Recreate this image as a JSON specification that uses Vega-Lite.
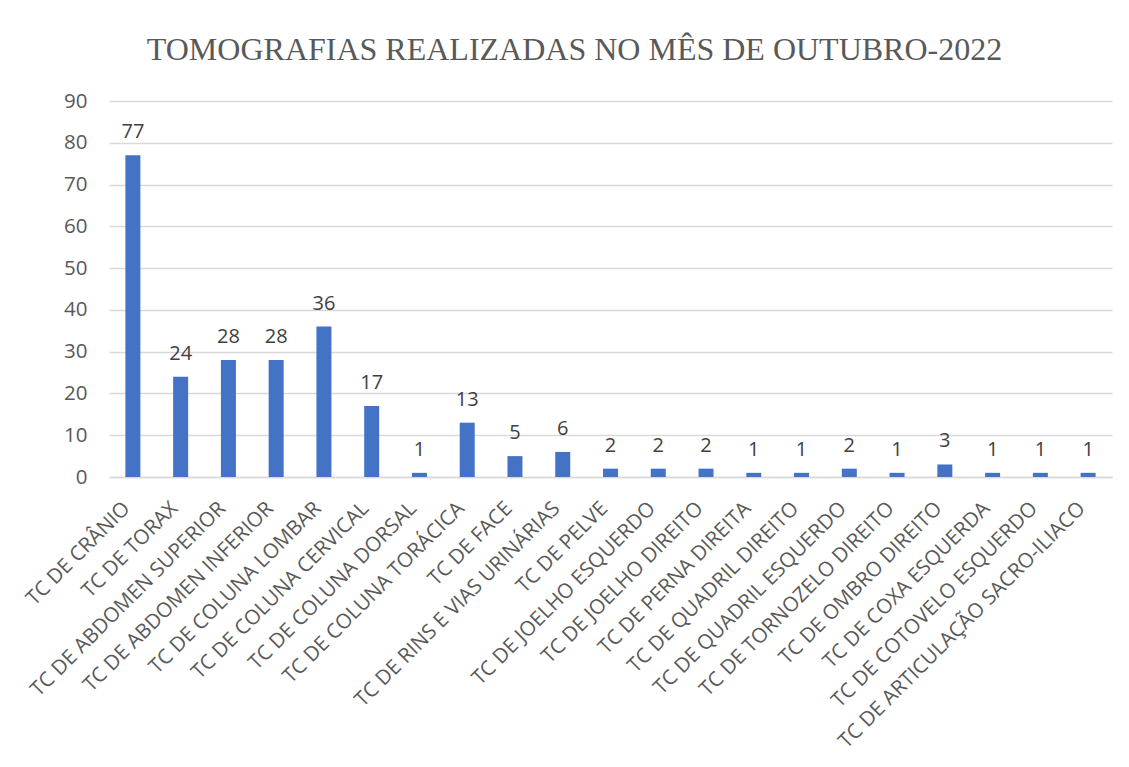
{
  "$schema": "https://vega.github.io/schema/vega-lite/v6.json",
  "width": 1003,
  "height": 376,
  "autosize": {"type": "none"},
  "padding": {"left": 109, "top": 101, "right": 17, "bottom": 290},
  "background": "white",
  "title": {
    "text": "TOMOGRAFIAS REALIZADAS NO MÊS DE OUTUBRO-2022",
    "font": "Liberation Serif",
    "fontSize": 32,
    "fontWeight": "normal",
    "color": "#595959",
    "anchor": "middle",
    "dx": -36,
    "offset": 24
  },
  "data": {
    "values": [
      {"exame": "TC DE CRÂNIO", "qtd": 77},
      {"exame": "TC DE TORAX", "qtd": 24},
      {"exame": "TC DE ABDOMEN SUPERIOR", "qtd": 28},
      {"exame": "TC DE ABDOMEN INFERIOR", "qtd": 28},
      {"exame": "TC DE COLUNA LOMBAR", "qtd": 36},
      {"exame": "TC DE COLUNA CERVICAL", "qtd": 17},
      {"exame": "TC DE COLUNA DORSAL", "qtd": 1},
      {"exame": "TC DE COLUNA TORÁCICA", "qtd": 13},
      {"exame": "TC DE FACE", "qtd": 5},
      {"exame": "TC DE RINS E VIAS URINÁRIAS", "qtd": 6},
      {"exame": "TC DE PELVE", "qtd": 2},
      {"exame": "TC DE JOELHO ESQUERDO", "qtd": 2},
      {"exame": "TC DE JOELHO DIREITO", "qtd": 2},
      {"exame": "TC DE PERNA DIREITA", "qtd": 1},
      {"exame": "TC DE QUADRIL DIREITO", "qtd": 1},
      {"exame": "TC DE QUADRIL ESQUERDO", "qtd": 2},
      {"exame": "TC DE TORNOZELO DIREITO", "qtd": 1},
      {"exame": "TC DE OMBRO DIREITO", "qtd": 3},
      {"exame": "TC DE COXA ESQUERDA", "qtd": 1},
      {"exame": "TC DE COTOVELO ESQUERDO", "qtd": 1},
      {"exame": "TC DE ARTICULAÇÃO SACRO-ILIACO", "qtd": 1}
    ]
  },
  "encoding": {
    "x": {
      "field": "exame",
      "type": "nominal",
      "sort": null,
      "title": null,
      "scale": {"paddingInner": 0, "paddingOuter": 0},
      "axis": {
        "labelAngle": -45,
        "labelAlign": "right",
        "labelBaseline": "middle",
        "labelFont": "Open Sans",
        "labelFontSize": 20.5,
        "labelColor": "#595959",
        "labelPadding": 28,
        "labelOffset": -6,
        "labelLimit": 500,
        "ticks": false,
        "domainColor": "#d9d9d9",
        "domainWidth": 1.3,
        "grid": false
      }
    },
    "y": {
      "field": "qtd",
      "type": "quantitative",
      "title": null,
      "scale": {"domain": [0, 90], "nice": false},
      "axis": {
        "values": [0, 10, 20, 30, 40, 50, 60, 70, 80, 90],
        "labelFont": "Open Sans",
        "labelFontSize": 20.5,
        "labelColor": "#595959",
        "labelPadding": 22,
        "ticks": false,
        "domain": false,
        "gridColor": "#d9d9d9",
        "gridWidth": 1.3
      }
    }
  },
  "layer": [
    {"mark": {"type": "bar", "color": "#4472c4", "size": 15}},
    {
      "mark": {"type": "text", "font": "Open Sans", "fontSize": 20, "color": "#404040", "baseline": "alphabetic", "dy": -17},
      "encoding": {"text": {"field": "qtd", "type": "quantitative"}}
    }
  ],
  "config": {"view": {"stroke": null}}
}
